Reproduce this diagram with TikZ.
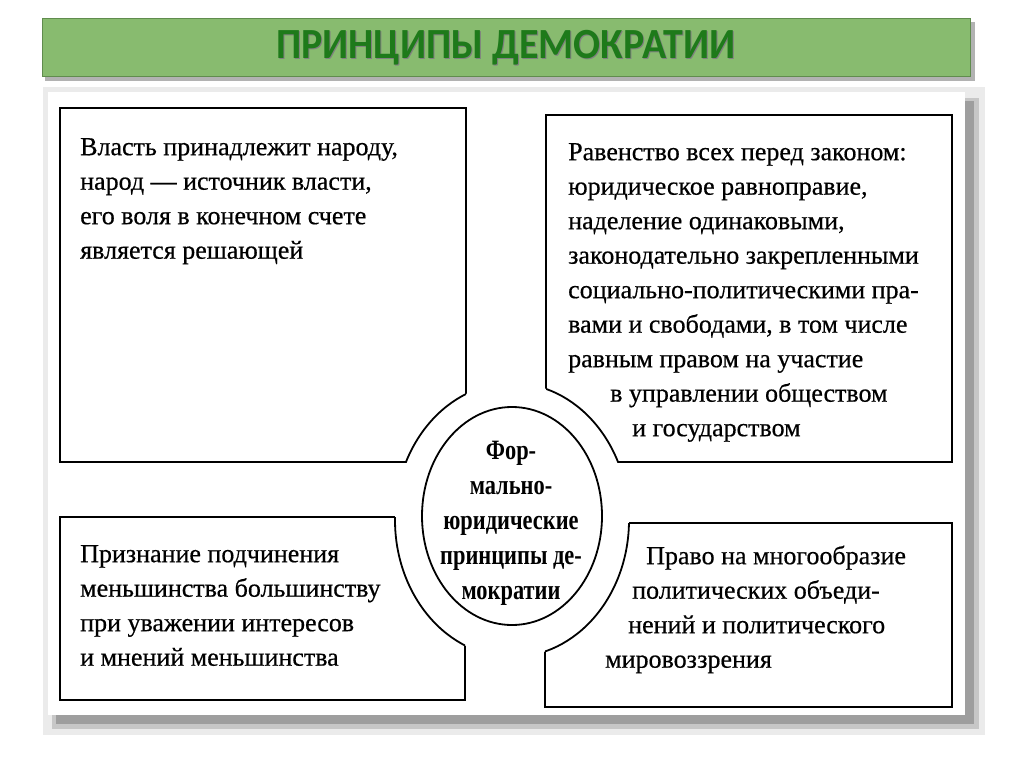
\documentclass[tikz,border=0pt]{standalone}
\usepackage{fontspec}
\setmainfont{Liberation Serif}
\newfontfamily\scanfont{Liberation Serif}[FakeBold=0.5]
\newfontfamily\corefont{Liberation Serif}[FakeStretch=0.8]
\newfontfamily\titlefont{Carlito}[FakeStretch=0.93]
\usetikzlibrary{shapes.geometric}
\definecolor{barfill}{RGB}{136,187,111}
\definecolor{barline}{RGB}{96,140,78}
\definecolor{bartext}{RGB}{30,122,26}

\begin{document}
\begin{tikzpicture}[x=1pt, y=-1pt,
    boxline/.style={line width=1.8pt},
    txt/.style={anchor=north west, inner sep=0pt, align=left, font=\scanfont\fontsize{26}{34.5}\selectfont}]
    \useasboundingbox (0,0) rectangle (1024,767);

    % Title bar
    \fill[black!30] (45,22) rectangle (975,81);
    \fill[barfill, draw=barline] (42,18) rectangle (970,76);
    \node[text=black!50] (titleshadow) at (507,49) {\titlefont\bfseries\fontsize{43}{43}\selectfont ПРИНЦИПЫ ДЕМОКРАТИИ};
    \node[text=bartext] (title) at (506,47.5) {\titlefont\bfseries\fontsize{43}{43}\selectfont ПРИНЦИПЫ ДЕМОКРАТИИ};

    % Scanned panel
    \fill[black!8] (43,87) rectangle (985,735);
    \fill[black!22] (52,98) rectangle (979,729);
    \fill[black!38] (56,101) rectangle (974,724);
    \fill[white] (48,92) rectangle (965,715);

    % Boxes
    \draw[boxline, fill=white] (60,108) rectangle (466,462);
    \draw[boxline, fill=white] (546,115) rectangle (952,462);
    \draw[boxline, fill=white] (60,517) rectangle (465,700);
    \draw[boxline, fill=white] (545,523) rectangle (952,707);

    % Ring cut out of the boxes
    \fill[white] (512,520) ellipse [x radius=117pt, y radius=137pt];
    \foreach \xa/\ya/\xb/\yb in {60/108/466/462, 546/115/952/462, 60/517/465/700, 545/523/952/707} {
        \begin{scope}
            \clip (\xa,\ya) rectangle (\xb,\yb);
            \draw[boxline] (512,520) ellipse [x radius=117pt, y radius=137pt];
        \end{scope}
    }

    % Centre
    \node[ellipse, draw, line width=1.8pt, minimum width=180pt, minimum height=218pt, inner sep=0pt] (core) at (512,516) {};
    \node[align=center, inner sep=0pt, font=\corefont\bfseries\fontsize{28}{35}\selectfont] (coretext) at (511,523) {Фор-\\мально-\\юридические\\принципы де-\\мократии};

    % Texts
    \node[txt] (power) at (80,135) {\rule{0pt}{20pt}Власть принадлежит народу,\\народ — источник власти,\\его воля в конечном счете\\является решающей};
    \node[txt] (equality) at (568,140) {\rule{0pt}{20pt}Равенство всех перед законом:\\юридическое равноправие,\\наделение одинаковыми,\\законодательно закрепленными\\социально-политическими пра-\\вами и свободами, в том числе\\равным правом на участие\\\hspace*{42pt}в управлении обществом\\\hspace*{64pt}и государством};
    \node[txt] (majority) at (80,542) {\rule{0pt}{20pt}Признание подчинения\\меньшинства большинству\\при уважении интересов\\и мнений меньшинства};
    \node[txt] (pluralism) at (605,544) {\rule{0pt}{20pt}\hspace*{41pt}Право на многообразие\\\hspace*{27pt}политических объеди-\\\hspace*{23pt}нений и политического\\мировоззрения};
\end{tikzpicture}
\end{document}
